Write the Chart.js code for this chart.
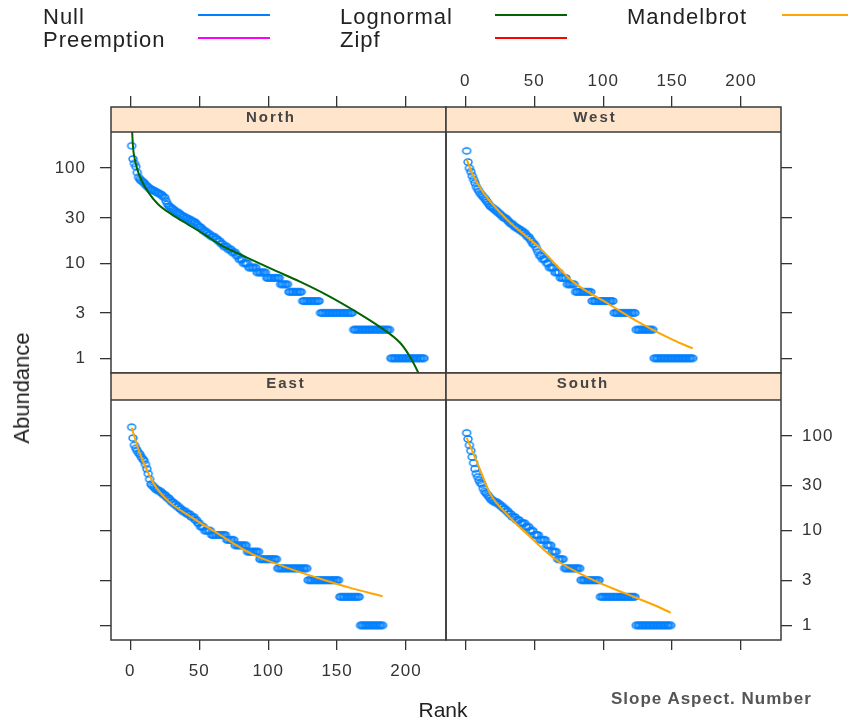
<!DOCTYPE html>
<html lang="en">
<head>
  <meta charset="UTF-8">
  <title>Rank-abundance by slope aspect</title>
  <script src="https://cdn.jsdelivr.net/npm/chart.js@4"></script>
  <style>
    body { margin: 0; background: #fff; font-family: "Liberation Sans", Arial, sans-serif; color: #222; }
    #page { position: relative; width: 848px; height: 719px; overflow: hidden; background: #fff; }
    #page canvas { position: absolute; left: 0; top: 0; }
    .txt { position: absolute; white-space: nowrap; line-height: 1; }
    .key { position: absolute; height: 2px; }
  </style>
</head>
<body>
<div id="page">
  <canvas id="north" width="848" height="719"></canvas>
  <canvas id="west" width="848" height="719"></canvas>
  <canvas id="east" width="848" height="719"></canvas>
  <canvas id="south" width="848" height="719"></canvas>

  <div class="txt" style="left:22px;top:388px;font-size:22px;transform:translate(-50%,-50%) rotate(-90deg)">Abundance</div>
  <div class="txt" style="left:443px;top:699px;font-size:21px;transform:translateX(-50%)">Rank</div>
  <div class="txt" style="left:611px;top:690px;font-size:17px;font-weight:bold;color:#555;letter-spacing:1px">Slope Aspect. Number</div>
</div>

<script>
  // rank axis / abundance axis
  const rankTicks = [0, 50, 100, 150, 200];
  const abundanceTicks = [1, 3, 10, 30, 100];

  // legend entries
  const modelNames = ["Null", "Preemption", "Lognormal", "Zipf", "Mandelbrot"];
  const modelColors = ["#0080ff", "#ff00ff", "#006400", "#ff0000", "#ffa500"];

  // observed abundances in rank order: leading species one by one, then [abundance, species] runs
  const northHead = [172, 125, 112, 104, 90,
    80, 76, 74, 72, 70, 67, 65, 63,
    61, 60, 59, 58, 57, 56, 55,
    54, 53, 52, 50, 49,
    45, 42, 40,
    39, 38, 37, 36, 35, 34, 34,
    33, 32, 31, 31, 30, 30,
    29, 29, 28, 28, 27, 27,
    26, 25, 24, 24, 23, 22, 22,
    21, 21, 20, 20, 19, 19, 19,
    18, 18, 17, 17, 16, 16, 15, 15, 15,
    14, 14, 14, 13, 13, 13, 12, 12,
    11, 11, 11, 10, 10, 10, 10];
  const northRuns = [[9, 6], [8, 7], [7, 10], [6, 6], [5, 10], [4, 13], [3, 24], [2, 27], [1, 25]];

  const westHead = [152, 116, 100, 92, 83, 76, 70, 64, 60, 57, 54, 52, 50, 48, 46,
    44, 42, 40, 39, 38, 37, 36, 35, 34, 33, 32, 31, 30, 30,
    29, 28, 27, 26, 26, 25, 24, 24, 23, 23, 22, 22, 21, 21, 20, 19, 19,
    18, 17, 16, 16, 15, 14, 13, 12, 12, 11, 11, 11, 10];
  const westRuns = [[10, 1], [9, 4], [8, 4], [7, 5], [6, 6], [5, 12], [4, 16], [3, 16], [2, 13], [1, 29]];

  const eastHead = [124, 95, 80, 74, 70, 66, 64, 60, 57, 55, 50, 45, 40, 35, 31, 30,
    29, 28, 27, 27, 26, 26, 25, 24, 24, 23,
    22, 22, 21, 20, 20, 19, 19, 18, 18, 17,
    17, 16, 16, 16, 15, 15, 15, 14, 14, 14,
    13, 13, 12, 12, 11];
  const eastRuns = [[11, 2], [10, 5], [9, 11], [8, 6], [7, 9], [6, 9], [5, 13], [4, 22], [3, 23], [2, 15], [1, 17]];

  const southHead = [108, 93, 80, 70, 60, 52, 45, 40, 37, 34, 32, 31, 28, 26, 25,
    24, 23, 22, 21, 21, 20, 20, 20, 19, 19,
    18, 18, 17, 17, 16, 16, 15, 15, 14, 14,
    14, 13, 13, 13, 12, 12, 12, 12, 11, 11,
    11, 10, 10, 10, 9, 9, 9, 9, 8];
  const southRuns = [[8, 4], [7, 4], [6, 4], [5, 5], [4, 12], [3, 14], [2, 26], [1, 26]];

  // fitted models
  const northFitRank = [1, 2, 3, 5, 8, 13, 20, 30, 42, 54, 65, 85, 104, 123, 143, 162, 181, 196, 203, 209, 213];
  const northFitAb = [300, 165, 130, 98, 75, 56, 42, 32.6, 25.5, 20, 15.7, 11.4, 8.5, 6.4, 4.6, 3.2, 2.14, 1.44, 1.03, 0.7, 0.52];

  const westFitRank = [1, 5, 13, 30, 54, 78, 103, 127, 151, 165];
  const westFitAb = [124, 88, 55.7, 29, 14.5, 6.4, 3.8, 2.34, 1.55, 1.27];

  const eastFitRank = [1, 7, 17, 27, 44, 63, 87, 111, 135, 159, 183];
  const eastFitAb = [122, 65, 31.4, 20.9, 14, 9.4, 5.8, 4.2, 3.2, 2.5, 2.03];

  const southFitRank = [1, 11, 18, 30, 47, 66, 91, 115, 139, 149];
  const southFitAb = [96, 43, 24.6, 15, 8.6, 4.9, 3.1, 2.2, 1.59, 1.36];

  const FONT = '"Liberation Sans", Arial, sans-serif';
  const PAGE_W = 848, PAGE_H = 719, AX = 60;

  // legend
  const page = document.getElementById("page");
  const legendCols = [43, 340, 627];
  const legendRows = [6, 29];
  modelNames.forEach((name, i) => {
    const col = Math.floor(i / 2), row = i % 2;
    const t = document.createElement("div");
    t.className = "txt";
    t.style.cssText = `left:${legendCols[col]}px;top:${legendRows[row]}px;font-size:22px;letter-spacing:1px;color:#222`;
    t.textContent = name;
    page.appendChild(t);
    const k = document.createElement("div");
    k.className = "key";
    k.style.cssText = `left:${legendCols[col] + 155}px;top:${legendRows[row] + 8}px;width:72px;background:${modelColors[i]}`;
    page.appendChild(k);
  });

  // open blue marker, a bit wider than tall like the reference
  const marker = document.createElement("canvas");
  marker.width = 12; marker.height = 10;
  (function () {
    const c = marker.getContext("2d");
    c.strokeStyle = "#0080ff";
    c.lineWidth = 1.4;
    c.beginPath();
    c.ellipse(6, 5, 4, 3, 0, 0, Math.PI * 2);
    c.stroke();
  })();

  function expand(head, runs) {
    const ab = head.slice();
    runs.forEach(([v, n]) => { for (let i = 0; i < n; i++) ab.push(v); });
    return ab.map((y, i) => ({ x: i + 1, y }));
  }

  const panelFrame = {
    id: "panelFrame",
    beforeDraw(chart) {
      chart.ctx.letterSpacing = "1px";
    },
    afterDraw(chart, args, opts) {
      const { ctx, chartArea: a } = chart;
      const top = opts.stripTop;
      ctx.save();
      ctx.fillStyle = "#ffe5cc";
      ctx.fillRect(a.left, top, a.right - a.left, a.top - top);
      ctx.strokeStyle = "#3a3a3a";
      ctx.lineWidth = 1.5;
      ctx.strokeRect(a.left, top, a.right - a.left, a.bottom - top);
      ctx.beginPath();
      ctx.moveTo(a.left, a.top);
      ctx.lineTo(a.right, a.top);
      ctx.stroke();
      ctx.fillStyle = "#444";
      ctx.font = "bold 15px " + FONT;
      ctx.letterSpacing = "2px";
      ctx.textAlign = "center";
      ctx.textBaseline = "middle";
      ctx.fillText(opts.title, opts.labelX, top + 11);
      ctx.restore();
    }
  };

  const panels = [
    { id: "north", title: "North", head: northHead, runs: northRuns, fitRank: northFitRank, fitAb: northFitAb,
      fitColor: modelColors[2], area: [111, 132, 446, 373], stripTop: 107, labelX: 271,
      xPos: "top", xLabels: false, yPos: "left", yLabels: true },
    { id: "west", title: "West", head: westHead, runs: westRuns, fitRank: westFitRank, fitAb: westFitAb,
      fitColor: modelColors[4], area: [446, 132, 781, 373], stripTop: 107, labelX: 595,
      xPos: "top", xLabels: true, yPos: "right", yLabels: false },
    { id: "east", title: "East", head: eastHead, runs: eastRuns, fitRank: eastFitRank, fitAb: eastFitAb,
      fitColor: modelColors[4], area: [111, 400, 446, 640], stripTop: 373, labelX: 286,
      xPos: "bottom", xLabels: true, yPos: "left", yLabels: false },
    { id: "south", title: "South", head: southHead, runs: southRuns, fitRank: southFitRank, fitAb: southFitAb,
      fitColor: modelColors[4], area: [446, 400, 781, 640], stripTop: 373, labelX: 583,
      xPos: "bottom", xLabels: false, yPos: "right", yLabels: true }
  ];

  panels.forEach(p => {
    const [L, T, R, B] = p.area;
    const padding = {
      left: p.yPos === "left" ? L - AX : L,
      right: p.yPos === "right" ? PAGE_W - R - AX : PAGE_W - R,
      top: p.xPos === "top" ? T - AX : T,
      bottom: p.xPos === "bottom" ? PAGE_H - B - AX : PAGE_H - B
    };
    const tickFont = { family: FONT, size: 17 };

    new Chart(document.getElementById(p.id), {
      type: "scatter",
      data: {
        datasets: [
          {
            data: p.fitRank.map((x, i) => ({ x, y: p.fitAb[i] })),
            showLine: true,
            borderColor: p.fitColor,
            borderWidth: 2,
            pointRadius: 0,
            fill: false,
            cubicInterpolationMode: "monotone"
          },
          {
            data: expand(p.head, p.runs),
            showLine: false,
            pointStyle: marker,
            pointRadius: 5,
            borderColor: "#0080ff",
            backgroundColor: "transparent"
          }
        ]
      },
      options: {
        responsive: false,
        animation: false,
        devicePixelRatio: 1,
        events: [],
        layout: { padding },
        scales: {
          x: {
            type: "linear",
            position: p.xPos,
            min: -14,
            max: 229,
            afterBuildTicks: s => { s.ticks = rankTicks.map(v => ({ value: v })); },
            afterFit: s => { s.height = AX; },
            grid: { drawOnChartArea: false, tickLength: p.xPos === "top" ? 36 : 10, color: "#333", lineWidth: 1.3 },
            border: { display: false },
            ticks: { display: p.xLabels, autoSkip: false, maxRotation: 0, padding: p.xPos === "top" ? 4 : 11,
              font: tickFont, color: "#333", callback: v => String(v) }
          },
          y: {
            type: "logarithmic",
            position: p.yPos,
            min: 0.71,
            max: 240,
            afterBuildTicks: s => { s.ticks = abundanceTicks.map(v => ({ value: v })); },
            afterFit: s => { s.width = AX; },
            grid: { drawOnChartArea: false, tickLength: 11, color: "#333", lineWidth: 1.3 },
            border: { display: false },
            ticks: { display: p.yLabels, autoSkip: false, padding: p.yPos === "left" ? 14 : 10,
              font: tickFont, color: "#333", callback: v => String(v) }
          }
        },
        plugins: {
          legend: { display: false },
          tooltip: { enabled: false },
          panelFrame: { title: p.title, labelX: p.labelX, stripTop: p.stripTop }
        }
      },
      plugins: [panelFrame]
    });
  });
</script>
</body>
</html>
